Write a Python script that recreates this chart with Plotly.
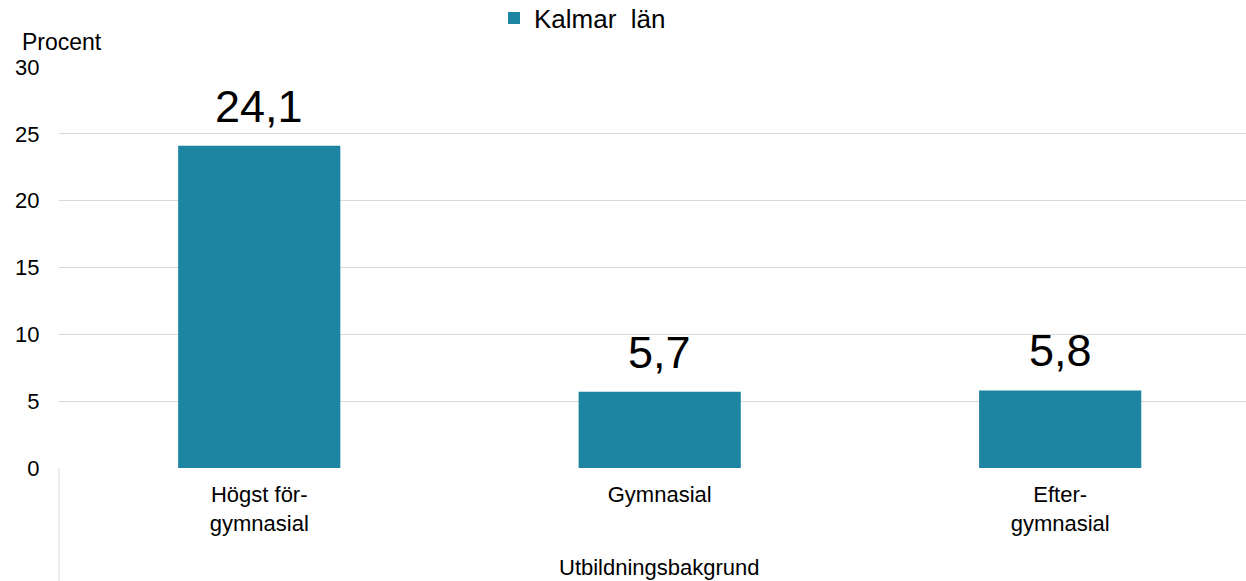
import plotly.graph_objects as go

categories = ["Högst för-<br>gymnasial", "Gymnasial", "Efter-<br>gymnasial"]
values = [24.1, 5.7, 5.8]
series_name = "Kalmar\u00a0\u00a0län"
y_ticks = [0, 5, 10, 15, 20, 25, 30]

BAR_COLOR = "#1D84A2"
GRID = "#D9D9D9"
FONT = "Liberation Sans, Arial, sans-serif"
TXT = "#000000"

W, H = 1246, 581
ML, MR, MT, MB = 59, 0, 67, 113
PW, PH = W - ML - MR, H - MT - MB

fig = go.Figure()
fig.add_trace(go.Bar(
    x=list(range(len(categories))),
    y=values,
    name=series_name,
    marker=dict(color=BAR_COLOR, line=dict(width=0)),
    width=0.405,
    showlegend=True,
))

for i, v in enumerate(values):
    fig.add_annotation(
        x=i, y=v, xref="x", yref="y",
        text=f"{v:.1f}".replace(".", ","),
        showarrow=False, yanchor="bottom", yshift=12,
        font=dict(family=FONT, size=45, color=TXT),
    )

fig.add_annotation(
    x=1, y=-99 / PH, xref="x", yref="paper",
    text="Utbildningsbakgrund", showarrow=False,
    yanchor="middle", font=dict(family=FONT, size=22, color=TXT),
)
fig.add_annotation(
    xref="paper", yref="paper", x=(20 - ML) / PW, y=1 + 25 / PH,
    text="Procent", showarrow=False, xanchor="left", yanchor="middle",
    font=dict(family=FONT, size=23, color=TXT),
)

fig.add_shape(
    type="line", xref="paper", yref="paper",
    x0=0, x1=0, y0=0, y1=-MB / PH,
    line=dict(color=GRID, width=1),
)

fig.update_layout(
    width=W, height=H,
    margin=dict(l=ML, r=MR, t=MT, b=MB, autoexpand=False),
    paper_bgcolor="white", plot_bgcolor="white",
    font=dict(family=FONT, size=22, color=TXT),
    legend=dict(
        orientation="h", xref="container", yref="container",
        x=494 / W, y=1 - 18 / H, xanchor="left", yanchor="middle",
        font=dict(family=FONT, size=26, color=TXT),
        bgcolor="rgba(0,0,0,0)",
    ),
    xaxis=dict(
        range=[-0.5, 2.464],
        tickmode="array",
        tickvals=list(range(len(categories))),
        ticktext=categories,
        showgrid=False, zeroline=False, showline=False,
        ticks="outside", ticklen=7, tickcolor="rgba(0,0,0,0)",
        tickfont=dict(family=FONT, size=22, color=TXT),
    ),
    yaxis=dict(
        range=[0, 30],
        tickmode="array", tickvals=y_ticks,
        ticktext=[str(t) for t in y_ticks],
        showgrid=True, gridcolor=GRID, gridwidth=1,
        zeroline=False, showline=False,
        ticks="outside", ticklen=14, tickcolor="rgba(0,0,0,0)",
        tickfont=dict(family=FONT, size=22, color=TXT),
    ),
    bargap=0.6,
)

fig.write_html(
    "out.html",
    config={"displayModeBar": False},
    post_script="document.body.style.margin='0';document.body.style.padding='0';"
                "document.body.style.overflow='hidden';",
)
